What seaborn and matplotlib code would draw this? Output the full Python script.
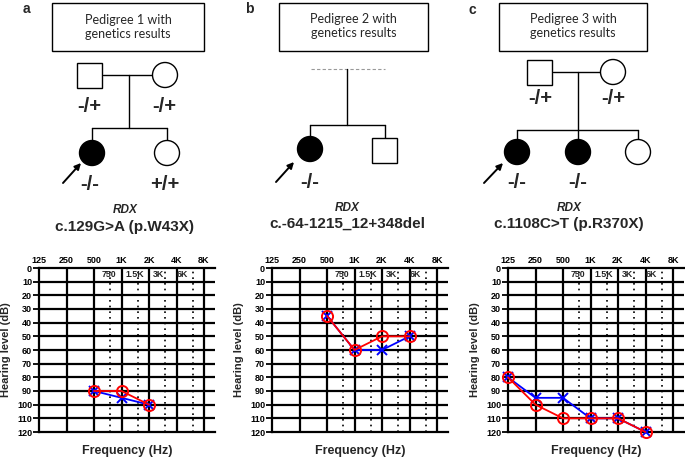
import numpy as np
import matplotlib
matplotlib.use('Agg')
import matplotlib.pyplot as plt
import seaborn as sns
import pandas as pd
from matplotlib.patches import Rectangle, Circle
from matplotlib.ticker import NullLocator, FixedLocator

# ---------------- data ----------------
freq_hz = [125, 250, 500, 1000, 2000, 4000, 8000]
freq_labels = ['125', '250', '500', '1K', '2K', '4K', '8K']
mid_hz = [750, 1500, 3000, 6000]
mid_labels = ['750', '1.5K', '3K', '6K']
db_ticks = [0, 10, 20, 30, 40, 50, 60, 70, 80, 90, 100, 110, 120]

a_freqs = [500, 1000, 2000]
a_right = [90, 90, 100]
a_left = [90, 95, 100]

b_freqs = [500, 1000, 2000, 4000]
b_right = [35, 60, 50, 50]
b_left = [35, 60, 60, 50]

c_freqs = [125, 250, 500, 1000, 2000, 4000]
c_right = [80, 100, 110, 110, 110, 120]
c_left = [80, 95, 95, 110, 110, 120]

panel_letters = ['a', 'b', 'c']
box_titles = ['Pedigree 1 with\ngenetics results',
              'Pedigree 2 with\ngenetics results',
              'Pedigree 3 with\ngenetics results']
gene = 'RDX'
variants = ['c.129G>A (p.W43X)', 'c.-64-1215_12+348del', 'c.1108C>T (p.R370X)']

# ---------------- figure ----------------
sns.set_theme(style='white')
plt.rcParams['font.family'] = ['Liberation Sans', 'DejaVu Sans']

W, H = 685, 458
fig = plt.figure(figsize=(6.85, 4.58), dpi=100)
ov = fig.add_axes([0, 0, 1, 1])
ov.set_xlim(0, W)
ov.set_ylim(H, 0)
ov.axis('off')

TITLE_FONT = ['Lato', 'Liberation Sans', 'DejaVu Sans']
BOLD_FONT = ['Liberation Sans', 'DejaVu Sans']
LW = 1.0


def square(x, y, s=25, filled=False):
    ov.add_patch(Rectangle((x - s / 2, y - s / 2), s, s, fc='black' if filled else 'white',
                           ec='black', lw=LW, zorder=3))


def circle(x, y, r=12.5, filled=False):
    ov.add_patch(Circle((x, y), r, fc='black' if filled else 'white', ec='black', lw=LW, zorder=3))


def line(xs, ys, **kw):
    ov.plot(xs, ys, color=kw.pop('color', 'black'), lw=kw.pop('lw', LW), zorder=2, **kw)


def geno(x, y, s):
    ov.text(x, y, s, ha='center', va='center', fontsize=14.5, fontweight='bold',
            family=BOLD_FONT)


def arrow(x0, y0, x1, y1):
    ov.annotate('', xy=(x1, y1), xytext=(x0, y0),
                arrowprops=dict(arrowstyle='-|>', color='black', lw=1.4, mutation_scale=9,
                                shrinkA=0, shrinkB=0))


def header(letter, lx, ly, box, title_y):
    ov.text(lx, ly, letter, ha='center', va='center', fontsize=10, fontweight='bold')
    x0, x1, y0, y1 = box
    ov.add_patch(Rectangle((x0, y0), x1 - x0, y1 - y0, fc='white', ec='black', lw=LW))
    ov.text((x0 + x1) / 2, title_y, box_titles[panel_letters.index(letter)], ha='center',
            va='center', fontsize=9, family=TITLE_FONT, linespacing=1.25)


def variant_text(x, y1, y2, v):
    ov.text(x, y1, gene, ha='center', va='center', fontsize=8.5, fontweight='bold',
            style='italic', family=BOLD_FONT)
    ov.text(x, y2, v, ha='center', va='center', fontsize=11, fontweight='bold',
            family=BOLD_FONT)


# Pedigree 1
header('a', 26, 9, (52, 204, 3, 51), 27)
line([103, 152], [75, 75])
line([129, 129], [75, 128])
line([92, 167], [128, 128])
line([92, 92], [128, 141])
line([167, 167], [128, 141])
square(90, 75)
circle(165, 75)
circle(92, 153, filled=True)
circle(167, 153)
geno(89, 107, '-/+')
geno(164, 107, '-/+')
geno(90, 185, '-/-')
geno(165, 185, '+/+')
arrow(63, 183, 81, 163)
variant_text(125, 210, 227, variants[0])

# Pedigree 2
header('b', 249, 9, (279, 428, 3, 51), 26)
line([311, 385], [69, 69], color='#999999', lw=0.8, ls=(0, (3, 2)))
line([347, 347], [69, 125])
line([310, 385], [125, 125])
line([310, 310], [125, 137])
line([385, 385], [125, 138])
circle(310, 149, filled=True)
square(385, 150)
geno(310, 182, '-/-')
arrow(276, 182, 294, 162)
variant_text(347, 208, 224, variants[1])

# Pedigree 3
header('c', 472, 10, (499, 647, 3, 51), 26)
line([553, 601], [72, 72])
line([578, 578], [72, 130])
line([517, 638], [130, 130])
for cx in (517, 578, 638):
    line([cx, cx], [130, 140])
square(540, 72)
circle(613, 72)
circle(517, 152, filled=True)
circle(578, 152, filled=True)
circle(638, 152)
geno(540, 99, '-/+')
geno(613, 99, '-/+')
geno(517, 183, '-/-')
geno(578, 183, '-/-')
arrow(484, 183, 503, 163)
variant_text(569, 208, 224, variants[2])

# ---------------- audiograms ----------------
OCT = 27.5  # px per octave
mid_shift = [-0.04, -0.094, -0.255, -0.385]


def audiogram(left_px, freqs, right, left):
    top, bottom = 268, 432
    width = 176
    ax = fig.add_axes([left_px / W, (H - bottom) / H, width / W, (bottom - top) / H])
    ax.set_xscale('log', base=2)
    ax.set_xlim(125, 125 * 2 ** (width / OCT))
    ax.set_ylim(120, 0)
    ax.set_facecolor('white')
    for sp in ['top', 'left', 'bottom']:
        ax.spines[sp].set_visible(True)
        ax.spines[sp].set_color('black')
        ax.spines[sp].set_linewidth(1.6)
    ax.spines['right'].set_visible(False)
    for d in db_ticks[1:-1]:
        ax.axhline(d, color='black', lw=1.6, zorder=1)
    for f in freq_hz[1:]:
        ax.axvline(f, color='black', lw=1.6, zorder=1)
    for f in mid_hz:
        ax.axvline(f, color='black', lw=1.2, ls=(0, (1, 2.4)), zorder=1)
    for f, lab, sh in zip(mid_hz, mid_labels, mid_shift):
        ax.text(f * 2 ** sh, 5, lab, ha='center', va='center', fontsize=6.3,
                fontweight='bold', zorder=2)

    df_l = pd.DataFrame({'f': freqs, 'db': left})
    df_r = pd.DataFrame({'f': freqs, 'db': right})
    n0 = len(ax.lines)
    sns.lineplot(data=df_l, x='f', y='db', ax=ax, color='blue', lw=1.3, marker='x',
                 markersize=7, markeredgewidth=1.4, markeredgecolor='blue', zorder=4)
    sns.lineplot(data=df_r, x='f', y='db', ax=ax, color='red', lw=1.3, marker='o',
                 markersize=8, markerfacecolor='none', markeredgecolor='red',
                 markeredgewidth=1.4, zorder=5)
    for ln in ax.lines[n0:]:
        ln.set_clip_on(False)

    ax.xaxis.tick_top()
    ax.xaxis.set_major_locator(FixedLocator(freq_hz))
    ax.xaxis.set_minor_locator(NullLocator())
    ax.set_xticklabels(freq_labels)
    ax.tick_params(axis='x', which='both', length=0, pad=2, labelsize=6.5)
    ax.set_yticks(db_ticks)
    ax.set_yticklabels([str(d) for d in db_ticks])
    ax.tick_params(axis='y', length=4, width=1.3, color='black', direction='out', pad=1,
                   labelsize=6.5, left=True)
    for t in ax.get_xticklabels() + ax.get_yticklabels():
        t.set_fontweight('bold')
        t.set_color('black')
    ax.set_xlabel('')
    ax.set_ylabel('')
    ax.text(-33 / width, 0.5, 'Hearing level (dB)', transform=ax.transAxes, rotation=90,
            ha='center', va='center', fontsize=8, fontweight='bold')
    ax.text(0.5, -19 / 164, 'Frequency (Hz)', transform=ax.transAxes, ha='center',
            va='center', fontsize=9, fontweight='bold')
    ax.grid(False)
    return ax


audiogram(39, a_freqs, a_right, a_left)
audiogram(272, b_freqs, b_right, b_left)
audiogram(508, c_freqs, c_right, c_left)

fig.savefig('out.png', dpi=100, facecolor='white')
